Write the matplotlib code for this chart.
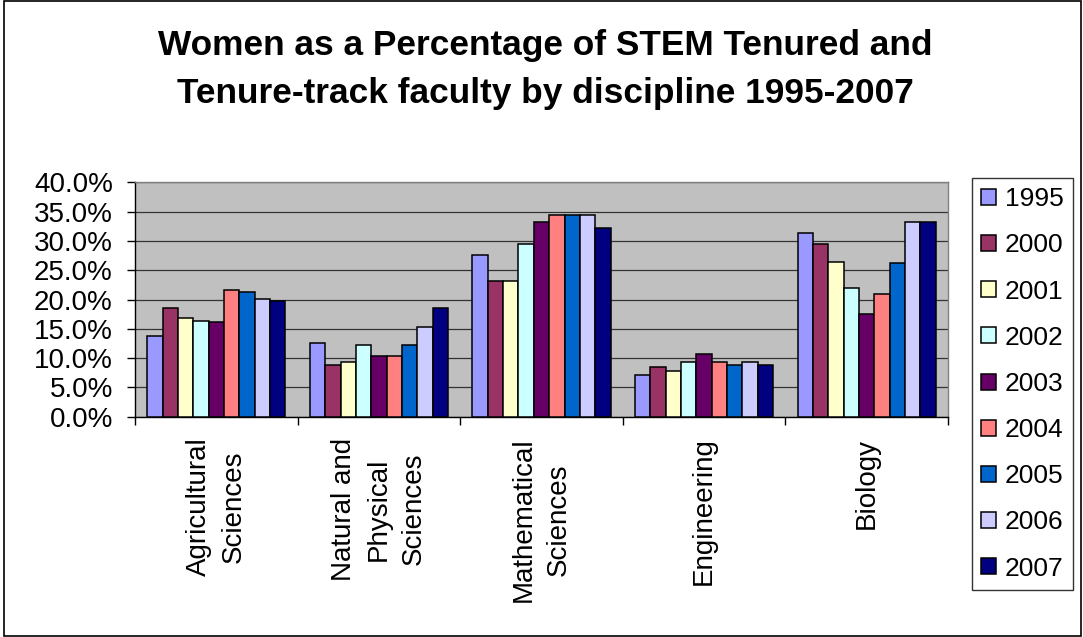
import matplotlib
matplotlib.use("Agg")
import matplotlib.pyplot as plt
import numpy as np
from matplotlib.ticker import FuncFormatter, FixedLocator
from matplotlib.patches import Rectangle

plt.rcParams['font.family'] = ['Liberation Sans', 'DejaVu Sans']

categories = ["Agricultural\nSciences", "Natural and\nPhysical\nSciences",
              "Mathematical\nSciences", "Engineering", "Biology"]
years = ["1995", "2000", "2001", "2002", "2003", "2004", "2005", "2006", "2007"]
colors = ["#9999FF", "#993366", "#FFFFCC", "#CCFFFF", "#660066",
          "#FF8080", "#0066CC", "#CCCCFF", "#000080"]

# percent values: rows = years, columns = categories
v1995 = [13.8, 12.6, 27.7, 7.1, 31.4]
v2000 = [18.6, 8.9, 23.1, 8.5, 29.5]
v2001 = [16.8, 9.3, 23.1, 7.8, 26.4]
v2002 = [16.4, 12.3, 29.5, 9.3, 22.0]
v2003 = [16.1, 10.4, 33.3, 10.7, 17.6]
v2004 = [21.7, 10.4, 34.4, 9.3, 21.0]
v2005 = [21.3, 12.3, 34.4, 8.9, 26.2]
v2006 = [20.1, 15.3, 34.4, 9.3, 33.3]
v2007 = [19.8, 18.6, 32.3, 8.9, 33.3]
series = [v1995, v2000, v2001, v2002, v2003, v2004, v2005, v2006, v2007]

fig = plt.figure(figsize=(10.83, 6.37), dpi=100)
ax = fig.add_axes([135/1083, 1 - 416.7/637, (948-135)/1083, (416.7-182.5)/637])
ax.set_facecolor("#C0C0C0")

n = len(series)
group_w = 0.85
bw = group_w / n
x = np.arange(len(categories))
for i, (vals, c, lab) in enumerate(zip(series, colors, years)):
    ax.bar(x - group_w/2 + bw*(i + 0.5), vals, width=bw, color=c,
           edgecolor="black", linewidth=1.1, label=lab, zorder=3)

ax.set_xlim(-0.5, len(categories) - 0.5)
ax.set_ylim(0, 40)
ax.yaxis.set_major_locator(FixedLocator(np.arange(0, 40.1, 5)))
ax.yaxis.set_major_formatter(FuncFormatter(lambda v, p: f"{v:.1f}%"))
ax.grid(axis="y", color="#333333", linewidth=0.9, zorder=1)
ax.set_axisbelow(True)

ax.set_xticks(np.arange(-0.5, len(categories)), minor=False)
ax.set_xticklabels([""] * (len(categories) + 1))
ax.set_xticks(x, minor=True)
ax.set_xticklabels(categories, minor=True, rotation=90, fontsize=20,
                   ha="center", va="top", multialignment="center",
                   linespacing=1.45)
ax.tick_params(axis="x", which="minor", length=0, pad=15)
ax.tick_params(axis="x", which="major", length=6, width=1, direction="out")
ax.tick_params(axis="y", length=6, width=1, direction="out", labelsize=20, pad=10)

for s in ["top", "right"]:
    ax.spines[s].set_color("#808080")
    ax.spines[s].set_linewidth(1)
for s in ["left", "bottom"]:
    ax.spines[s].set_color("black")
    ax.spines[s].set_linewidth(1)

leg = ax.legend(loc="upper left", bbox_to_anchor=(972/1083, 1 - 178/637),
                bbox_transform=fig.transFigure, borderaxespad=0, fontsize=19,
                frameon=True, fancybox=False, edgecolor="black",
                labelspacing=0.84, handlelength=0.55, handleheight=0.55,
                handletextpad=0.35, borderpad=0.35)
leg.get_frame().set_linewidth(1)

fig.text(545/1083, 1 - 55/637, "Women as a Percentage of STEM Tenured and",
         ha="center", va="baseline", fontsize=25.4, fontweight="bold")
fig.text(545/1083, 1 - 103/637, "Tenure-track faculty by discipline 1995-2007",
         ha="center", va="baseline", fontsize=25.4, fontweight="bold")

fig.patches.append(Rectangle((4/1083, 1/637), 1077/1083, 635/637,
                             transform=fig.transFigure, fill=False,
                             edgecolor="black", linewidth=1.2))

fig.savefig("out.png", dpi=100)
